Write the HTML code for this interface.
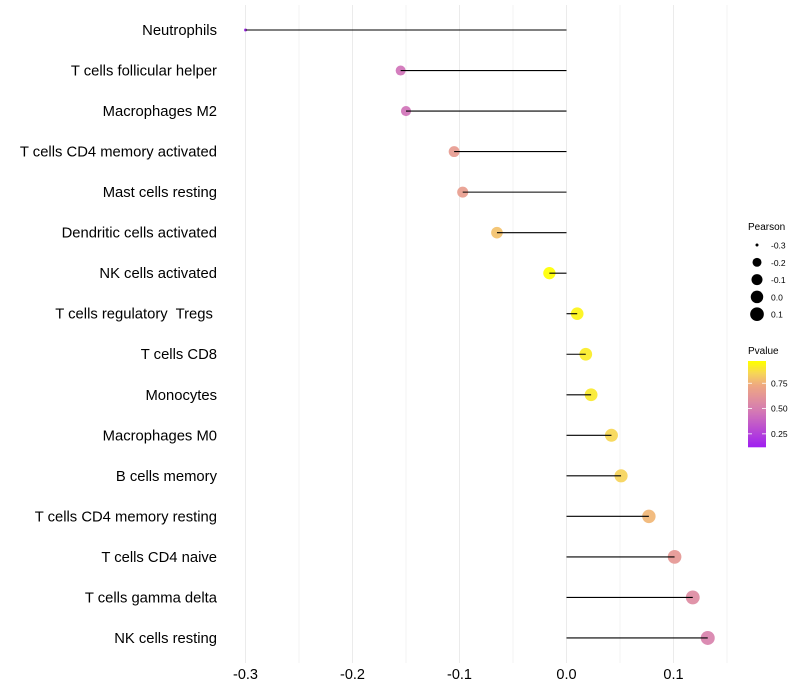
<!DOCTYPE html>
<html><head><meta charset="utf-8"><style>
html,body{margin:0;padding:0;background:#fff;width:800px;height:700px;overflow:hidden}
svg{font-family:"Liberation Sans",sans-serif}
text{white-space:pre}
</style></head><body>
<svg id="chart" width="800" height="700" xmlns="http://www.w3.org/2000/svg">
<g id="grid"></g>
<g id="ylabels"></g>
<g id="xlabels"></g>
<g id="marks"></g>
<g id="legend-size"></g>
<g id="legend-color"></g>
</svg>
<script>
const categories=["Neutrophils","T cells follicular helper","Macrophages M2","T cells CD4 memory activated","Mast cells resting","Dendritic cells activated","NK cells activated","T cells regulatory  Tregs ","T cells CD8","Monocytes","Macrophages M0","B cells memory","T cells CD4 memory resting","T cells CD4 naive","T cells gamma delta","NK cells resting"];
const pearson=[-0.300,-0.155,-0.150,-0.105,-0.097,-0.065,-0.016,0.010,0.018,0.023,0.042,0.051,0.077,0.101,0.118,0.132];
const pvalue=[0.13,0.45,0.45,0.66,0.67,0.80,0.97,0.94,0.92,0.91,0.86,0.85,0.77,0.64,0.57,0.52];
const xTicks=[-0.3,-0.2,-0.1,0.0,0.1];
const xTickLabels=["-0.3","-0.2","-0.1","0.0","0.1"];
const sizeBreaks=[-0.3,-0.2,-0.1,0.0,0.1];
const sizeLabels=["-0.3","-0.2","-0.1","0.0","0.1"];
const colorBreaks=[0.25,0.50,0.75];
const colorLabels=["0.25","0.50","0.75"];

const NS="http://www.w3.org/2000/svg";
const X0=566.5, XS=1070;
const x=v=>X0+v*XS;
const y=i=>30+i*40.53;
const r=v=>Math.sqrt(2.25+81.4*Math.pow(Math.max(0,v+0.3),0.66));
const PMIN=0.12,PMAX=0.97;
const stops=[[0,[160,32,240]],[0.42,[212,122,180]],[0.72,[238,168,130]],[0.86,[246,212,90]],[1,[255,255,0]]];
function col(p){let t=Math.max(0,Math.min(1,(p-PMIN)/(PMAX-PMIN)));for(let k=1;k<stops.length;k++){if(t<=stops[k][0]){const a=stops[k-1],b=stops[k];const f=(t-a[0])/(b[0]-a[0]);const c=a[1].map((v,j)=>Math.round(v+(b[1][j]-v)*f));return `rgb(${c})`;}}return "rgb(255,255,0)";}
function mk(tag,attrs,parent){const e=document.createElementNS(NS,tag);for(const k in attrs)e.setAttribute(k,attrs[k]);parent.appendChild(e);return e;}

const grid=document.getElementById('grid');
for(let v=-0.3;v<=0.151;v+=0.05){const g=mk('line',{x1:x(v),x2:x(v),y1:5,y2:663,stroke:'#ebebeb','stroke-width':Math.abs(Math.round(v*100))%10===0?1:0.6},grid);

}
const xl=document.getElementById('xlabels');
xTicks.forEach((v,i)=>{const t=mk('text',{x:x(v),y:679,'text-anchor':'middle','font-size':14.5,fill:'#000'},xl);t.textContent=xTickLabels[i];

});
const yl=document.getElementById('ylabels');
const marks=document.getElementById('marks');
categories.forEach((c,i)=>{
const t=mk('text',{x:217,y:y(i)+5,'text-anchor':'end','font-size':14.8,fill:'#000'},yl);t.textContent=c;


const p=mk('circle',{cx:x(pearson[i]),cy:y(i),r:r(pearson[i]),fill:col(pvalue[i]),'fill-opacity':0.92},marks);


const l=mk('line',{x1:x(0),x2:x(pearson[i]),y1:y(i),y2:y(i),stroke:'#000','stroke-width':1.1},marks);


});
const ls=document.getElementById('legend-size');
const st=mk('text',{x:748,y:230,'font-size':10,fill:'#000'},ls);st.textContent='Pearson';


sizeBreaks.forEach((v,i)=>{const cy=245+i*17.3;
const c=mk('circle',{cx:757,cy:cy,r:r(v),fill:'#000'},ls);


const t=mk('text',{x:771,y:cy+3.5,'font-size':8.5,fill:'#000'},ls);t.textContent=sizeLabels[i];

});
const lc=document.getElementById('legend-color');
const ct=mk('text',{x:748,y:354,'font-size':10,fill:'#000'},lc);ct.textContent='Pvalue';


const BT=361,BB=447;
const py=p=>BB-(p-PMIN)/(PMAX-PMIN)*(BB-BT);
for(let k=0;k<86;k++){const p=PMIN+(PMAX-PMIN)*(k/85);const s=mk('rect',{x:748,y:BB-(k+1),width:18,height:1.3,fill:col(p)},lc);

}
colorBreaks.forEach((v,i)=>{const yy=py(v);
const tk=mk('line',{x1:748,x2:752,y1:yy,y2:yy,stroke:'#fff','stroke-width':0.8},lc);


const tk2=mk('line',{x1:762,x2:766,y1:yy,y2:yy,stroke:'#fff','stroke-width':0.8},lc);


const t=mk('text',{x:771,y:yy+3,'font-size':8.5,fill:'#000'},lc);t.textContent=colorLabels[i];

});
</script>
</body></html>
